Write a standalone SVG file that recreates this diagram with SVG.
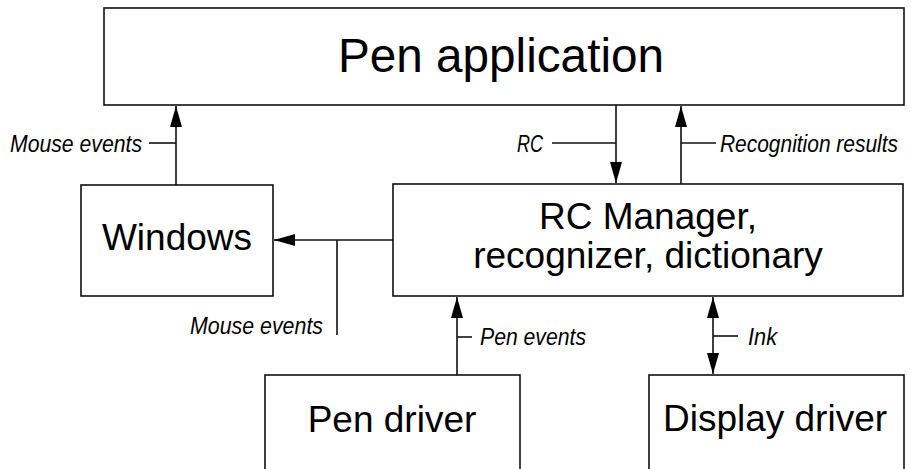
<svg xmlns="http://www.w3.org/2000/svg" width="911" height="469" viewBox="0 0 911 469">
<style>
.box{fill:#fff;stroke:#111;stroke-width:1.6}
.big{font-family:"Liberation Sans",Arial,sans-serif;fill:#000;text-anchor:middle}
.lbl{font-family:"Liberation Sans",Arial,sans-serif;font-style:italic;font-size:24px;fill:#000}
.ln{stroke:#111;stroke-width:1.6;fill:none}
</style>
<defs>
<marker id="ah" markerUnits="userSpaceOnUse" markerWidth="22" markerHeight="14" viewBox="0 0 22 14" refX="21" refY="7" orient="auto">
<path d="M0,1 L21,7 L0,13 Z" fill="#000"/>
</marker>
<marker id="ahs" markerUnits="userSpaceOnUse" markerWidth="22" markerHeight="14" viewBox="0 0 22 14" refX="1" refY="7" orient="auto">
<path d="M22,1 L1,7 L22,13 Z" fill="#000"/>
</marker>
</defs>
<rect width="911" height="469" fill="#fff"/>
<g id="pen-application">
<rect class="box" x="104" y="8" width="800" height="97"/>
<text class="big" x="501" y="72" font-size="48" textLength="326" lengthAdjust="spacingAndGlyphs">Pen application</text>
</g>
<g id="windows">
<rect class="box" x="81" y="185" width="192" height="111"/>
<text class="big" x="177" y="250" font-size="37">Windows</text>
</g>
<g id="rc-manager">
<rect class="box" x="393" y="184" width="510" height="112"/>
<text class="big" x="648" y="229" font-size="37">RC Manager,</text>
<text class="big" x="648" y="268" font-size="37">recognizer, dictionary</text>
</g>
<g id="pen-driver">
<rect class="box" x="265" y="375" width="255" height="110"/>
<text class="big" x="392" y="432" font-size="37">Pen driver</text>
</g>
<g id="display-driver">
<rect class="box" x="649" y="375" width="255" height="110"/>
<text class="big" x="775" y="431" font-size="37">Display driver</text>
</g>
<g id="connectors">
<line class="ln" x1="176" y1="185" x2="176" y2="106" marker-end="url(#ah)"/>
<line class="ln" x1="149" y1="143" x2="176" y2="143"/>
<line class="ln" x1="616" y1="105" x2="616" y2="183" marker-end="url(#ah)"/>
<line class="ln" x1="552" y1="143" x2="616" y2="143"/>
<line class="ln" x1="681" y1="184" x2="681" y2="106" marker-end="url(#ah)"/>
<line class="ln" x1="681" y1="143" x2="716" y2="143"/>
<line class="ln" x1="393" y1="240" x2="274" y2="240" marker-end="url(#ah)"/>
<line class="ln" x1="337" y1="240" x2="337" y2="335"/>
<line class="ln" x1="457" y1="375" x2="457" y2="297" marker-end="url(#ah)"/>
<line class="ln" x1="457" y1="337" x2="472" y2="337"/>
<line class="ln" x1="713" y1="297" x2="713" y2="374" marker-start="url(#ahs)" marker-end="url(#ah)"/>
<line class="ln" x1="713" y1="336" x2="738" y2="336"/>
</g>
<g id="labels">
<text class="lbl" x="10" y="152" textLength="132" lengthAdjust="spacingAndGlyphs">Mouse events</text>
<text class="lbl" x="517" y="152" textLength="26" lengthAdjust="spacingAndGlyphs">RC</text>
<text class="lbl" x="720" y="152" textLength="178" lengthAdjust="spacingAndGlyphs">Recognition results</text>
<text class="lbl" x="190" y="334" textLength="133" lengthAdjust="spacingAndGlyphs">Mouse events</text>
<text class="lbl" x="480" y="345" textLength="106" lengthAdjust="spacingAndGlyphs">Pen events</text>
<text class="lbl" x="748" y="345" textLength="29" lengthAdjust="spacingAndGlyphs">Ink</text>
</g>
</svg>
